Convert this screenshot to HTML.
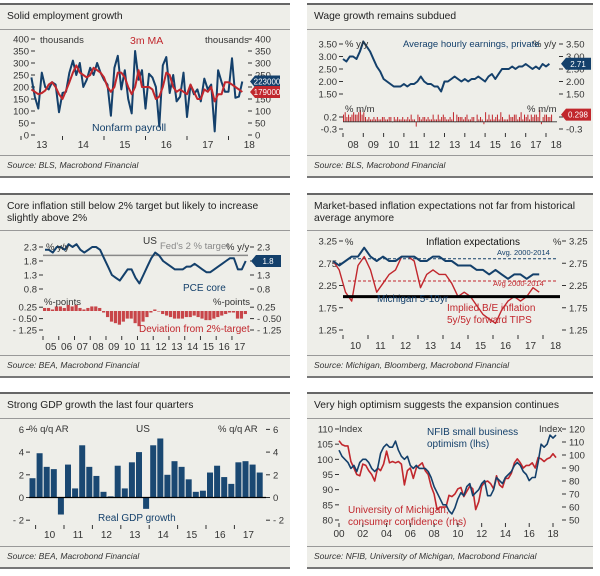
<!DOCTYPE html>
<html><head><meta charset="utf-8">
<style>
html,body{margin:0;padding:0;background:#fff;}
svg{display:block;font-family:"Liberation Sans",sans-serif;}
</style></head>
<body>
<svg id="s" width="600" height="576" viewBox="0 0 600 576" xmlns="http://www.w3.org/2000/svg"></svg>
<script>
// ---------- DATA ----------
const nfpValues=[240,160,110,260,200,190,220,210,95,
175,180,260,310,250,300,200,230,280,250,300,260,
230,210,80,280,330,190,270,150,90,350,230,270,
110,255,240,200,35,290,325,175,250,140,160,260,
75,210,170,190,140,235,190,210,15,270,220,180,
180,320,155,160,223];
const nfpMA=[190,180,170,175,185,210,220,200,170,
150,185,220,260,290,260,250,240,250,280,270,260,
240,200,180,200,260,260,240,200,170,200,270,200,
200,200,190,150,160,200,260,250,200,180,190,180,
170,210,180,150,150,190,180,200,140,170,170,220,
220,210,200,190,179];
const p1Ticks=[0,50,100,150,200,250,300,350,400];
const p1Years=['13','14','15','16','17','18'];
const aheValues=[2.9,2.8,3.0,3.0,2.9,3.2, 3.6,3.4,3.2,2.9,2.6,2.4, 2.1,2.0,1.9,1.8,1.8,1.8,
1.9,1.8,1.9,1.9,2.0,2.2, 2.0,1.9,1.9,1.8,1.8,1.6, 2.0,2.0,2.1,2.2,2.1,2.0,
2.1,2.0,2.1,2.1,2.2,2.1, 2.0,2.2,2.3,2.1,2.3,2.5, 2.5,2.5,2.6,2.5,2.6,2.6,
2.7,2.6,2.5,2.6,2.5,2.7, 2.6,2.71];
const aheMoM=[.3,.4,.2,.3,.2,.3,.4,.3,.3,.4,.5,.3, .4,.2,.1,.2,.1,.1,.2,.1,.2,.1,.1,.2,
.2,.1,.1,.2,.2,0,.2,.1,.2,.1,.1,.2, .1,.1,.2,.1,.3,.1,.1,-.2,.3,.2,.1,.2,
.2,.1,.2,.1,.1,.3,.1,.1,.3,.1,.2,.3, .2,.1,.1,.2,.1,.4,0,.3,.2,.2,.2,.1,
.2,.3,.1,.1,.2,.2,0,.3,.1,.2,.1,-.1, .4,.1,.3,.1,.3,.1,.2,.3,.1,.4,.2,.1,
.1,.1,.3,.2,.2,.3,.3,.1,.2,.4,.1,.3, .2,.3,.1,.3,.2,.3,.3,.2,.5,-.1,.2,.3, .3,.2,.2,.3];
const p2TicksTop=[1.5,2.0,2.5,3.0,3.5];
const p2TicksBot=[0.2,-0.3];
const p2Years=['08','09','10','11','12','13','14','15','16','17','18'];
const pceValues=[2.2,2.2,2.1,2.3, 2.3,2.2,2.4,2.3, 2.4,2.2,2.1,2.2, 2.3,2.3,2.2,1.9,
1.6,1.3,1.2,1.1, 1.3,1.5,1.5,1.2, 1.0,1.3,1.6,1.9, 2.1,2.0,1.8,1.7, 1.6,1.5,1.5,1.5,
1.6,1.6,1.7,1.6, 1.5,1.4,1.4,1.5, 1.6,1.7,1.8,1.9, 1.9,1.5,1.5,1.8];
const pceDev=[0.2,0.2,0.1,0.3, 0.3,0.2,0.4,0.3, 0.4,0.2,0.1,0.2, 0.3,0.3,0.2,-0.1,
-0.4,-0.7,-0.8,-0.9, -0.7,-0.5,-0.5,-0.8, -1.0,-0.7,-0.4,-0.1, 0.1,0.0,-0.2,-0.3,
-0.4,-0.5,-0.5,-0.5, -0.4,-0.4,-0.3,-0.4, -0.5,-0.6,-0.6,-0.5, -0.4,-0.3,-0.2,-0.1, -0.1,-0.5,-0.5,-0.2];
const p3TicksTop=[0.8,1.3,1.8,2.3];
const p3TicksBot=[0.25,-0.5,-1.25];
const p3Years=['05','06','07','08','09','10','11','12','13','14','15','16','17'];
const michValues=[2.8,2.7,2.8,2.9, 2.9,3.1,2.9,2.8, 2.9,2.8,2.8,2.9, 2.9,2.9,2.8,2.8,
2.9,2.9,2.8,2.8, 2.7,2.7,2.7,2.6, 2.6,2.5,2.6,2.5, 2.4,2.5,2.5,2.4, 2.5,2.5];
const beValues=[2.8,2.6,2.1,1.9, 2.7,2.9,2.6,2.1, 2.3,2.5,2.6,2.9, 2.9,2.8,2.2,2.5,
2.6,2.5,2.5,2.3, 2.0,2.1,2.0,1.8, 1.6,1.5,1.4,1.7, 1.9,2.0,1.9,2.0, 2.2,2.1];
const p4Avg=[2.85,2.35];
const p4Ticks=[1.25,1.75,2.25,2.75,3.25];
const p4Years=['10','11','12','13','14','15','16','17','18'];
const gdpValues=[1.7,3.9,2.7,2.5,-1.5,2.9,0.8,4.6,2.7,1.9,0.5,0.1,2.8,0.8,3.1,4.0,-1.0,4.6,5.2,2.0,3.2,2.7,1.6,0.5,0.6,2.2,2.8,1.8,1.2,3.1,3.2,2.9,2.2];
const p5Ticks=[-2,0,2,4,6];
const p5Years=['10','11','12','13','14','15','16','17'];
const nfibValues=[103,101,100,99, 97,98,96,99, 100,100,99,97, 96,97,102,104, 105,104,104,106,
103,101,100,101, 98,97,98,97, 97,97,96,94, 91,89,87,85, 85,83,82,84, 87,89,88,91,
92,88,89,90, 92,93,88,88, 90,94,93,92, 94,95,96,98, 99,98,96,95, 93,94,94,99, 105,104,105,108, 107,108];
const umichValues=[111,108,107,107, 95,90,85,84, 93,92,88,85, 80,90,88,93, 103,94,95,94,
95,93,77,88, 90,82,90,92, 94,88,85,76, 70,58,60,60, 60,69,68,70, 74,75,68,72,
76,74,58,64, 76,79,80,78, 74,84,77,75, 82,82,86,94, 97,94,90,92, 92,94,90,98, 97,95,97,98, 101,98];
const p6TicksL=[80,85,90,95,100,105,110];
const p6TicksR=[50,60,70,80,90,100,110,120];
const p6Years=['00','02','04','06','08','10','12','14','16','18'];

// ---------- HELPERS ----------
const S=document.getElementById('s');
const NS='http://www.w3.org/2000/svg';
const BLUE='#14406b', RED='#c1272d';
function mk(tag,attrs,name,parent){
  const el=document.createElementNS(NS,tag);
  for(const k in attrs) el.setAttribute(k,attrs[k]);
  
  
  (parent||S).appendChild(el);
  return el;
}
function txt(x,y,s,name,o){
  o=o||{};
  const el=mk('text',{x:x,y:y,'font-size':o.fs||9.5,fill:o.fill||'#333','text-anchor':o.anchor||'start','font-style':o.italic?'italic':'normal'},name);
  el.textContent=s;return el;
}
function lin(d0,d1,r0,r1){return v=>r0+(v-d0)*(r1-r0)/(d1-d0);}
function line(xs,ys,color,w,name){
  let d='';xs.forEach((x,i)=>{d+=(i?'L':'M')+x.toFixed(1)+' '+ys[i].toFixed(1);});
  return mk('path',{d:d,fill:'none',stroke:color,'stroke-width':w,'stroke-linejoin':'round'},name);
}
function panel(x0,x1,y0,y1,titleLines,source,sepTop,pname){
  mk('rect',{x:x0,y:y0,width:x1-x0,height:y1-y0,fill:'#eeeee9'},pname+'-background');
  mk('rect',{x:x0,y:y0-1,width:x1-x0,height:2,fill:'#666'},pname+'-top-border');
  mk('rect',{x:x0,y:y1-1,width:x1-x0,height:2,fill:'#777'},pname+'-bottom-border');
  mk('rect',{x:x0,y:sepTop,width:x1-x0,height:1,fill:'#999'},pname+'-title-separator');
  mk('rect',{x:x0,y:y1-22,width:x1-x0,height:1,fill:'#999'},pname+'-source-separator');
  titleLines.forEach((t,i)=>txt(x0+7,y0+15+i*12,t,pname+'-title',{fs:10.3,fill:'#222'}));
  txt(x0+7,y1-9,source,pname+'-source',{fs:8.5,italic:true,fill:'#333'});
}
function badge(x,y,label,color,name){
  mk('polygon',{points:`${x},${y} ${x+5},${y-6} ${x+30},${y-6} ${x+30},${y+6} ${x+5},${y+6}`,fill:color},name+'-shape');
  txt(x+17,y+3,label,name,{fs:8,fill:'#fff',anchor:'middle'});
}
function yTicks(ticks,sy,xl,xr,fmt,name,noRight){
  ticks.forEach(v=>{
    const y=sy(v);
    txt(xl-6,y+3.5,fmt(v),name+'-left-label',{anchor:'end'});
    mk('line',{x1:xl-4,x2:xl,y1:y,y2:y,stroke:'#333','stroke-width':1},name+'-left-tick');
    if(!noRight){
      mk('line',{x1:xr,x2:xr+4,y1:y,y2:y,stroke:'#333','stroke-width':1},name+'-right-tick');
      txt(xr+7,y+3.5,fmt(v),name+'-right-label');
    }
  });
}
function xYears(labels,sx,base,yTick,yLab,name){
  labels.forEach((l,i)=>{
    const yr=base+i;
    mk('line',{x1:sx(yr),x2:sx(yr),y1:yTick,y2:yTick+4,stroke:'#333','stroke-width':1},name+'-x-tick');
    txt(sx(yr+0.5),yLab,l,name+'-x-label',{anchor:'middle',fs:10});
  });
}

// ---------- PANEL 1 ----------
panel(0,290,4,177,['Solid employment growth'],'Source: BLS, Macrobond Financial',29,'employment');
{
  const sx=lin(2013,2018,21,228.5), sy=lin(0,400,135,39);
  yTicks(p1Ticks,sy,35,248,v=>v,'employment-y');
  xYears(p1Years,sx,2013,136,148,'employment');
  const xs=nfpValues.map((v,i)=>sx(2013+3/12+i/12));
  line(xs,nfpValues.map(sy),BLUE,2,'nonfarm-payroll-line');
  line(nfpMA.map((v,i)=>sx(2013+3/12+i/12)),nfpMA.map(sy),RED,2,'payroll-3m-ma-line');
  txt(40,43,'thousands','employment-y-left-title',{fs:9.5});
  txt(205,43,'thousands','employment-y-right-title',{fs:9.5});
  txt(130,44,'3m MA','ma-series-label',{fs:10.5,fill:RED});
  txt(92,131,'Nonfarm payroll','payroll-series-label',{fs:10.5,fill:BLUE});
  badge(250,sy(nfpValues[nfpValues.length-1]),'223000',BLUE,'payroll-latest-badge');
  badge(250,sy(nfpMA[nfpMA.length-1]),'179000',RED,'ma-latest-badge');
}
// ---------- PANEL 2 ----------
panel(307,593,4,177,['Wage growth remains subdued'],'Source: BLS, Macrobond Financial',29,'wage');
{
  const sx=lin(2008,2018,343,546), sy=lin(1.5,3.5,94,44), sb=lin(0,0.5,121.8,109.8);
  yTicks(p2TicksTop,sy,343,559,v=>v.toFixed(2),'wage-y');
  yTicks(p2TicksBot,sb,343,559,v=>v.toFixed(1),'wage-mom-y');
  xYears(p2Years,sx,2008,133,148,'wage');
  line(aheValues.map((v,i)=>sx(2008+i/6)),aheValues.map(sy),BLUE,2,'hourly-earnings-line');
  aheMoM.forEach((v,i)=>{
    const x=sx(2008+i/12), y0=sb(0), y=sb(v);
    mk('rect',{x:x,y:Math.min(y0,y),width:1,height:Math.max(0.5,Math.abs(y-y0)),fill:RED},'mom-bar');
  });
  mk('line',{x1:343,x2:557,y1:sb(0),y2:sb(0),stroke:'#333','stroke-width':0.8},'mom-zero-line');
  txt(345,47,'% y/y','wage-y-left-title');txt(533,47,'% y/y','wage-y-right-title');
  txt(345,112,'% m/m','wage-mom-left-title');txt(527,112,'% m/m','wage-mom-right-title');
  txt(403,47,'Average hourly earnings, private','earnings-series-label',{fs:9.5,fill:BLUE});
  badge(561,sy(2.71),'2.71',BLUE,'earnings-latest-badge');
  badge(561,sb(0.298),'0.298',RED,'mom-latest-badge');
}
// ---------- PANEL 3 ----------
panel(0,290,194,377,['Core inflation still below 2% target but likely to increase','slightly above 2%'],'Source: BEA, Macrobond Financial',230,'core-inflation');
{
  const sx=lin(2005,2018,43,247.7), sy=lin(0.8,2.3,289,247), sb=lin(0,0.25,311,307.2);
  yTicks(p3TicksTop,sy,43,250,v=>v.toFixed(1),'core-y');
  yTicks(p3TicksBot,sb,43,250,v=>v.toFixed(2).replace('-','- '),'core-dev-y');
  xYears(p3Years,sx,2005,336,350,'core');
  mk('line',{x1:43,x2:248,y1:sy(2.0),y2:sy(2.0),stroke:'#888','stroke-width':1.5},'fed-target-line');
  pceDev.forEach((v,i)=>{
    const x=sx(2005+i/4), y0=sb(0), y=sb(v);
    mk('rect',{x:x,y:Math.min(y0,y),width:3.2,height:Math.max(0.5,Math.abs(y-y0)),fill:RED,opacity:0.85},'deviation-bar');
  });
  line(pceValues.map((v,i)=>sx(2005+(i+0.5)/4)),pceValues.map(sy),BLUE,2,'pce-core-line');
  txt(46,250,'% y/y','core-y-left-title');txt(226,250,'% y/y','core-y-right-title');
  txt(143,244,'US','core-chart-label',{fs:10});
  txt(160,249,"Fed's 2 % target",'fed-target-label',{fill:'#888'});
  txt(183,291,'PCE core','pce-series-label',{fs:10,fill:BLUE});
  txt(44,305,'%-points','core-dev-left-title');txt(213,305,'%-points','core-dev-right-title');
  txt(139,332,'Deviation from 2%-target','deviation-series-label',{fs:10,fill:RED});
  badge(251,sy(1.8),'1.8',BLUE,'pce-latest-badge');
}
// ---------- PANEL 4 ----------
panel(307,593,194,377,['Market-based inflation expectations not far from historical','average anymore'],'Source: Michigan, Bloomberg, Macrobond Financial',230,'expectations');
{
  const sx=lin(2010,2018,343,543), sy=lin(1.25,3.25,330,241);
  yTicks(p4Ticks,sy,343,562,v=>v.toFixed(2),'expect-y');
  xYears(p4Years,sx,2010,335,349,'expect');
  mk('line',{x1:348,x2:556,y1:sy(p4Avg[0]),y2:sy(p4Avg[0]),stroke:BLUE,'stroke-width':1,'stroke-dasharray':'3,2'},'michigan-average-line');
  mk('line',{x1:348,x2:556,y1:sy(p4Avg[1]),y2:sy(p4Avg[1]),stroke:RED,'stroke-width':1,'stroke-dasharray':'3,2'},'breakeven-average-line');
  line(beValues.map((v,i)=>sx(2009.6+i/4)),beValues.map(sy),RED,1.4,'breakeven-5y5y-line');
  line(michValues.map((v,i)=>sx(2009.6+i/4)),michValues.map(sy),BLUE,2,'michigan-5-10y-line');
  mk('line',{x1:343,x2:560,y1:sy(2.0),y2:sy(2.0),stroke:'#000','stroke-width':3},'two-percent-line');
  txt(345,245,'%','expect-y-left-title');txt(553,245,'%','expect-y-right-title');
  txt(426,245,'Inflation expectations','expect-chart-label',{fs:10,fill:'#111'});
  txt(497,255,'Avg. 2000-2014','michigan-average-label',{fs:7.5,fill:BLUE});
  txt(493,286,'Avg 2000-2014','breakeven-average-label',{fs:7.5,fill:RED});
  txt(377,302,'Michigan 5-10yr','michigan-series-label',{fs:10,fill:BLUE});
  txt(447,311,'Implied B/E inflation','breakeven-series-label',{fs:10,fill:RED});
  txt(447,323,'5y/5y forward TIPS','breakeven-series-label-2',{fs:10,fill:RED});
}
// ---------- PANEL 5 ----------
panel(0,290,393,568,['Strong GDP growth the last four quarters'],'Source: BEA, Macrobond Financial',418,'gdp');
{
  const sy=lin(0,6,497.5,429.4), bx=i=>29.5+i*7.1;
  yTicks(p5Ticks,sy,30,266,v=>v<0?'- '+(-v):v,'gdp-y');
  p5Years.forEach((l,i)=>{
    const x=bx(1+i*4)-1;
    mk('line',{x1:x,x2:x,y1:525,y2:529,stroke:'#333'},'gdp-x-tick');
    txt(x+14,538,l,'gdp-x-label',{anchor:'middle',fs:10});
  });
  gdpValues.forEach((v,i)=>{
    const y0=sy(0), y=sy(v);
    mk('rect',{x:bx(i),y:Math.min(y0,y),width:6,height:Math.abs(y-y0),fill:'#1a4872'},'gdp-bar');
  });
  mk('line',{x1:29,x2:266,y1:sy(0),y2:sy(0),stroke:'#000','stroke-width':1.2},'gdp-zero-line');
  txt(29,432,'% q/q AR','gdp-y-left-title');txt(218,432,'% q/q AR','gdp-y-right-title');
  txt(136,432,'US','gdp-chart-label',{fs:10});
  txt(98,521,'Real GDP growth','gdp-series-label',{fs:10,fill:BLUE});
}
// ---------- PANEL 6 ----------
panel(307,593,393,568,['Very high optimism suggests the expansion continues'],'Source: NFIB, University of Michigan, Macrobond Financial',418,'optimism');
{
  const sx=lin(2000,2018,339,553), syL=lin(80,110,520,429), syR=lin(50,120,520,429);
  p6TicksL.forEach(v=>{const y=syL(v);txt(333,y+3.5,v,'optimism-left-label',{anchor:'end'});mk('line',{x1:335,x2:339,y1:y,y2:y,stroke:'#333'},'optimism-left-tick');});
  p6TicksR.forEach(v=>{const y=syR(v);mk('line',{x1:562,x2:566,y1:y,y2:y,stroke:'#333'},'optimism-right-tick');txt(569,y+3.5,v,'optimism-right-label');});
  p6Years.forEach((l,i)=>{const yr=2000+i*2;mk('line',{x1:sx(yr),x2:sx(yr),y1:523,y2:527,stroke:'#333'},'optimism-x-tick');txt(sx(yr),537,l,'optimism-x-label',{anchor:'middle',fs:10});});
  line(umichValues.map((v,i)=>sx(2000+i/4)),umichValues.map(syR),RED,1.6,'umich-confidence-line');
  line(nfibValues.map((v,i)=>sx(2000+i/4)),nfibValues.map(syL),BLUE,1.6,'nfib-optimism-line');
  txt(339,432,'Index','optimism-y-left-title');txt(539,432,'Index','optimism-y-right-title');
  txt(427,435,'NFIB small business','nfib-series-label',{fs:10,fill:BLUE});
  txt(427,447,'optimism (lhs)','nfib-series-label-2',{fs:10,fill:BLUE});
  txt(348,513,'University of Michigan,','umich-series-label',{fs:10,fill:RED});
  txt(348,525,'consumer confidence (rhs)','umich-series-label-2',{fs:10,fill:RED});
}
</script>
</body></html>
